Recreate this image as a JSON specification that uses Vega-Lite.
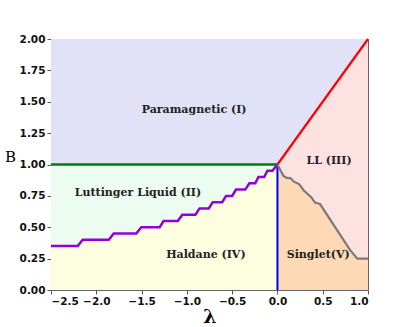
{
  "$schema": "https://vega.github.io/schema/vega-lite/v6.json",
  "width": 317,
  "height": 251,
  "autosize": "none",
  "padding": {"left": 51, "top": 39, "right": 41, "bottom": 37},
  "background": "white",
  "datasets": {
    "purple": [
      {"lam": -2.5, "B": 0.35}, {"lam": -2.205, "B": 0.35}, {"lam": -2.15, "B": 0.40},
      {"lam": -1.862, "B": 0.40}, {"lam": -1.807, "B": 0.45}, {"lam": -1.558, "B": 0.45},
      {"lam": -1.503, "B": 0.50}, {"lam": -1.30, "B": 0.50}, {"lam": -1.257, "B": 0.55},
      {"lam": -1.10, "B": 0.55}, {"lam": -1.05, "B": 0.60}, {"lam": -0.905, "B": 0.60},
      {"lam": -0.86, "B": 0.65}, {"lam": -0.758, "B": 0.65}, {"lam": -0.714, "B": 0.70},
      {"lam": -0.61, "B": 0.70}, {"lam": -0.567, "B": 0.75}, {"lam": -0.50, "B": 0.75},
      {"lam": -0.457, "B": 0.80}, {"lam": -0.355, "B": 0.80}, {"lam": -0.31, "B": 0.85},
      {"lam": -0.245, "B": 0.85}, {"lam": -0.21, "B": 0.90}, {"lam": -0.146, "B": 0.90},
      {"lam": -0.11, "B": 0.95}, {"lam": -0.055, "B": 0.95}, {"lam": 0.0, "B": 1.0}
    ],
    "grey": [
      {"lam": 0.0, "B": 1.0}, {"lam": 0.065, "B": 0.911}, {"lam": 0.095, "B": 0.895},
      {"lam": 0.146, "B": 0.89}, {"lam": 0.183, "B": 0.863}, {"lam": 0.242, "B": 0.842},
      {"lam": 0.286, "B": 0.797}, {"lam": 0.378, "B": 0.736}, {"lam": 0.415, "B": 0.696},
      {"lam": 0.47, "B": 0.685}, {"lam": 0.801, "B": 0.319}, {"lam": 0.882, "B": 0.25},
      {"lam": 1.0, "B": 0.25}
    ],
    "para": [
      {"lam": -2.5, "B": 1.0}, {"lam": 0.0, "B": 1.0}, {"lam": 1.0, "B": 2.0}
    ],
    "green": [
      {"lam": -2.5, "B": 1.0}, {"lam": 0.0, "B": 1.0}
    ],
    "red": [
      {"lam": 0.0, "B": 1.0}, {"lam": 1.0, "B": 2.0}
    ],
    "blue": [
      {"lam": 0.0, "B": 0.0}, {"lam": 0.0, "B": 1.0}
    ],
    "labels": [
      {"lam": -0.92, "B": 1.434, "text": "Paramagnetic (I)"},
      {"lam": -1.54, "B": 0.775, "text": "Luttinger Liquid (II)"},
      {"lam": -0.79, "B": 0.279, "text": "Haldane (IV)"},
      {"lam": 0.57, "B": 1.03, "text": "LL (III)"},
      {"lam": 0.45, "B": 0.279, "text": "Singlet(V)"}
    ]
  },
  "encoding": {
    "x": {
      "field": "lam", "type": "quantitative",
      "scale": {"domain": [-2.5, 1.0], "nice": false, "zero": false},
      "axis": {"title": "λ", "values": [-2.5, -2.0, -1.5, -1.0, -0.5, 0.0, 0.5, 1.0], "format": ".1f",
               "titleFont": "DejaVu Serif", "titleFontSize": 19, "titleFontWeight": "bold",
               "titleBaseline": "alphabetic", "titleY": 32}
    },
    "y": {
      "field": "B", "type": "quantitative",
      "scale": {"domain": [0, 2], "nice": false, "zero": false},
      "axis": {"title": "B", "values": [0, 0.25, 0.5, 0.75, 1.0, 1.25, 1.5, 1.75, 2.0], "format": ".2f",
               "titleFont": "DejaVu Serif", "titleFontSize": 15, "titleFontWeight": "normal",
               "titleAngle": 0, "titleAlign": "center", "titleBaseline": "middle",
               "titleX": -41, "titleY": 117}
    }
  },
  "layer": [
    {"data": {"name": "purple"}, "mark": {"type": "area", "color": "#fdfde0", "opacity": 1},
     "encoding": {"y2": {"datum": 0}}},
    {"data": {"name": "purple"}, "mark": {"type": "area", "color": "#ecfcf0", "opacity": 1},
     "encoding": {"y2": {"datum": 1}}},
    {"data": {"name": "grey"}, "mark": {"type": "area", "color": "#fdd9b6", "opacity": 1},
     "encoding": {"y2": {"datum": 0}}},
    {"data": {"name": "grey"}, "mark": {"type": "area", "color": "#fee1e1", "opacity": 1},
     "encoding": {"y2": {"datum": 2}}},
    {"data": {"name": "para"}, "mark": {"type": "area", "color": "#e1e1f7", "opacity": 1},
     "encoding": {"y2": {"datum": 2}}},
    {"data": {"name": "green"}, "mark": {"type": "line", "color": "#008000", "strokeWidth": 2.5}},
    {"data": {"name": "red"}, "mark": {"type": "line", "color": "#ff0000", "strokeWidth": 2.2}},
    {"data": {"name": "blue"}, "mark": {"type": "line", "color": "#0000ff", "strokeWidth": 2}},
    {"data": {"name": "purple"}, "mark": {"type": "line", "color": "#9400d3", "strokeWidth": 2.5}},
    {"data": {"name": "grey"}, "mark": {"type": "line", "color": "#7a7a7a", "strokeWidth": 2.2}},
    {"data": {"name": "labels"},
     "mark": {"type": "text", "font": "DejaVu Serif", "fontWeight": "bold", "fontSize": 11, "color": "#222", "align": "center", "baseline": "middle"},
     "encoding": {"text": {"field": "text"}}}
  ],
  "config": {
    "view": {"stroke": "#666", "strokeWidth": 1},
    "axis": {
      "domain": false, "grid": false,
      "tickColor": "#555", "tickSize": 4, "tickWidth": 1,
      "labelFont": "DejaVu Sans", "labelFontWeight": "bold", "labelFontSize": 10.5, "labelColor": "#111",
      "labelPadding": 2, "titleColor": "#000"
    },
    "axisY": {"labelAlign": "right"}
  }
}
